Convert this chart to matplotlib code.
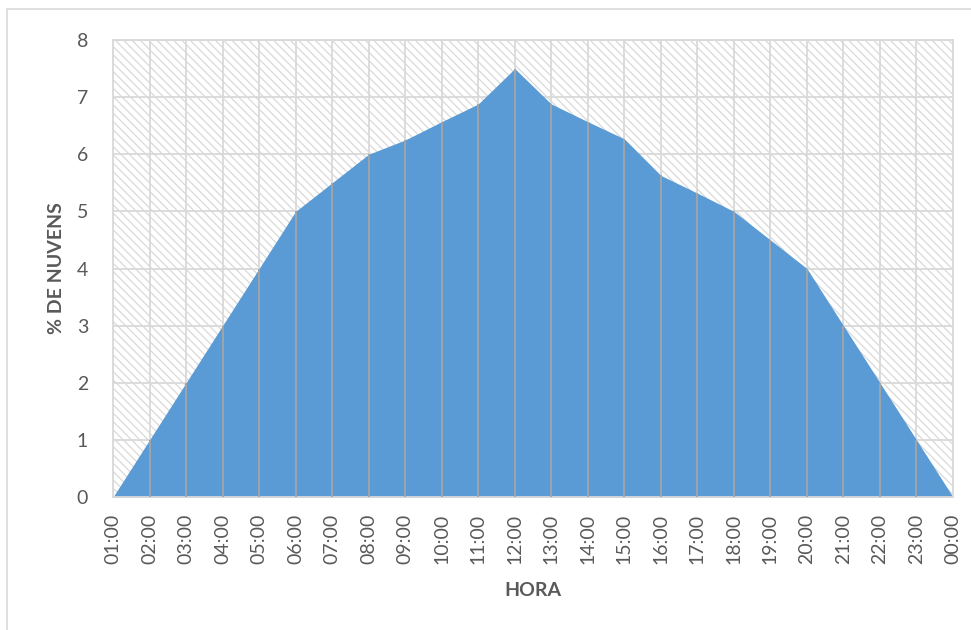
import matplotlib
matplotlib.use("Agg")
import matplotlib.pyplot as plt
from matplotlib.patches import Rectangle

hours = ["01:00", "02:00", "03:00", "04:00", "05:00", "06:00", "07:00", "08:00",
         "09:00", "10:00", "11:00", "12:00", "13:00", "14:00", "15:00", "16:00",
         "17:00", "18:00", "19:00", "20:00", "21:00", "22:00", "23:00", "00:00"]
values = [0, 1, 2, 3, 4, 5, 5.5, 6, 6.25, 6.57, 6.88, 7.5, 6.88, 6.57, 6.27,
          5.63, 5.32, 5.0, 4.5, 4.0, 3.0, 2.0, 1.0, 0]
yticks = [0, 1, 2, 3, 4, 5, 6, 7, 8]

plt.rcParams['font.family'] = ['Lato', 'DejaVu Sans']
plt.rcParams['hatch.linewidth'] = 0.9
plt.rcParams['hatch.color'] = '#d9d9d9'

W, H = 971, 630
fig = plt.figure(figsize=(W / 100, H / 100), dpi=100)
fig.patches.append(Rectangle((7 / W, -0.2), 1.5, 1.2 - 9 / H, transform=fig.transFigure,
                             fill=False, edgecolor='#d9d9d9', linewidth=1.2))

ax = fig.add_axes([113 / W, 1 - 497 / H, (953 - 113) / W, (497 - 40) / H])
x = list(range(len(hours)))

ax.add_patch(Rectangle((0, 0), 1, 1, transform=ax.transAxes, facecolor='white',
                       edgecolor='#d9d9d9', hatch='\\\\\\\\', linewidth=0, zorder=0))
for yt in yticks:
    ax.axhline(yt, color='#d9d9d9', linewidth=1.3, zorder=1)
for xi in x:
    ax.axvline(xi, color='#d9d9d9', linewidth=1.3, zorder=1)

ax.fill_between(x, values, 0, color='#5b9bd5', linewidth=0, zorder=2)
ax.vlines(x, 0, values, color='#a5a5a5', linewidth=1.3, zorder=3)

ax.set_xlim(0, len(hours) - 1)
ax.set_ylim(0, 8)
ax.set_yticks(yticks)
ax.set_xticks(x)
ax.set_xticklabels(hours, rotation=90)
ax.tick_params(axis='both', length=0, labelsize=14, labelcolor='#595959')
ax.tick_params(axis='y', pad=18)
ax.tick_params(axis='x', pad=12)
for s in ax.spines.values():
    s.set_color('#d9d9d9')
    s.set_linewidth(1.3)

fig.text(533 / W, 1 - 590 / H, 'HORA', ha='center', va='center', fontsize=14,
         fontweight='bold', color='#595959')
fig.text(56 / W, 1 - 268 / H, '% DE NUVENS', ha='center', va='center', rotation=90,
         fontsize=14, fontweight='bold', color='#595959')

fig.savefig('out.png', dpi=100)
